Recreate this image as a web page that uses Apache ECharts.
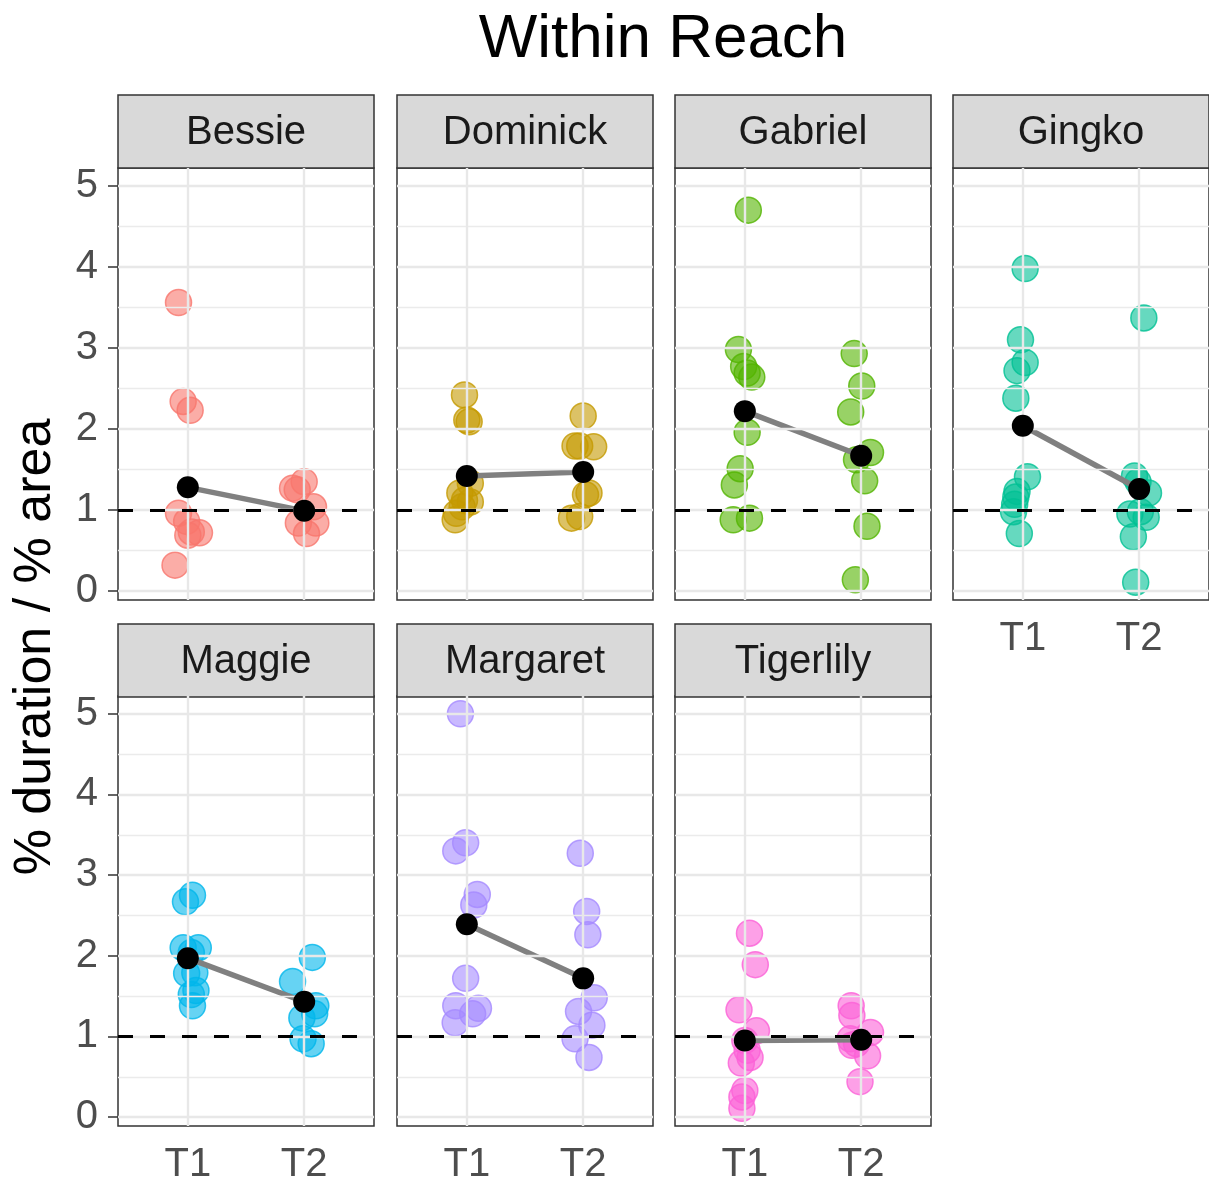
<!DOCTYPE html>
<html>
<head>
<meta charset="utf-8">
<script src="https://cdn.jsdelivr.net/npm/echarts@6/dist/echarts.min.js"></script>
<style>
  html, body { margin: 0; padding: 0; background: #ffffff; }
  #chart { width: 1209px; height: 1185px; }
</style>
</head>
<body>
<div id="chart"></div>
<script>
// ---------------- DATA ----------------
const chartTitle = 'Within Reach';
const yAxisTitle = '% duration / % area';
const animals = ['Bessie', 'Dominick', 'Gabriel', 'Gingko', 'Maggie', 'Margaret', 'Tigerlily'];
const timeLabels = ['T1', 'T2'];
const yTicks = [0, 1, 2, 3, 4, 5];
const yMinorTicks = [0.5, 1.5, 2.5, 3.5, 4.5];
const referenceLevel = 1;
const colors = ['#F8766D', '#C49A00', '#53B400', '#00C094', '#00B6EB', '#A58AFF', '#FB61D7'];

// observed values per animal and time point, with horizontal jitter offsets
const bessieT1 = [3.56, 2.34, 2.23, 0.96, 0.86, 0.73, 0.72, 0.69, 0.32];
const bessieT1Jitter = [-0.08, -0.04, 0.02, -0.08, -0.01, 0.03, 0.10, 0.00, -0.11];
const bessieT2 = [1.35, 1.27, 1.25, 1.04, 0.84, 0.84, 0.71];
const bessieT2Jitter = [0.00, -0.10, -0.06, 0.08, 0.10, -0.05, 0.02];

const dominickT1 = [2.42, 2.11, 2.09, 1.33, 1.21, 1.12, 1.10, 1.04, 0.96, 0.88];
const dominickT1Jitter = [-0.02, 0.00, 0.02, 0.03, -0.06, -0.02, 0.03, -0.04, -0.09, -0.10];
const dominickT2 = [2.16, 1.79, 1.79, 1.78, 1.21, 1.19, 0.92, 0.90];
const dominickT2Jitter = [0.00, -0.07, -0.03, 0.09, 0.05, 0.02, -0.03, -0.10];

const gabrielT1 = [4.70, 2.98, 2.77, 2.69, 2.64, 1.96, 1.51, 1.31, 0.88, 0.90];
const gabrielT1Jitter = [0.03, -0.055, -0.01, 0.02, 0.06, 0.02, -0.04, -0.09, -0.10, 0.04];
const gabrielT2 = [2.93, 2.53, 2.21, 1.71, 1.62, 1.36, 0.80, 0.14];
const gabrielT2Jitter = [-0.06, 0.005, -0.09, 0.08, -0.04, 0.03, 0.05, -0.05];

const gingkoT1 = [3.98, 3.10, 2.82, 2.72, 2.38, 1.41, 1.23, 1.16, 1.07, 0.98, 0.71];
const gingkoT1Jitter = [0.02, -0.02, 0.02, -0.05, -0.06, 0.04, -0.05, -0.06, -0.07, -0.08, -0.03];
const gingkoT2 = [3.37, 1.42, 1.35, 1.21, 0.98, 0.95, 0.91, 0.67, 0.11];
const gingkoT2Jitter = [0.04, -0.04, -0.01, 0.08, 0.01, -0.08, 0.06, -0.05, -0.03];

const maggieT1 = [2.75, 2.67, 2.10, 2.10, 2.04, 1.79, 1.78, 1.57, 1.52, 1.38];
const maggieT1Jitter = [0.04, -0.02, -0.04, 0.09, 0.03, 0.06, -0.01, 0.07, 0.03, 0.04];
const maggieT2 = [1.98, 1.68, 1.38, 1.28, 1.23, 0.97, 0.91];
const maggieT2Jitter = [0.07, -0.10, 0.10, 0.09, -0.02, -0.01, 0.06];

const margaretT1 = [5.00, 3.40, 3.30, 2.76, 2.63, 1.72, 1.38, 1.35, 1.28, 1.17];
const margaretT1Jitter = [-0.055, -0.01, -0.095, 0.09, 0.06, -0.01, -0.095, 0.10, 0.05, -0.10];
const margaretT2 = [3.27, 2.55, 2.26, 1.48, 1.31, 1.14, 0.97, 0.74];
const margaretT2Jitter = [-0.025, 0.03, 0.04, 0.095, -0.04, 0.075, -0.07, 0.05];

const tigerlilyT1 = [2.28, 1.89, 1.33, 1.07, 0.95, 0.83, 0.74, 0.67, 0.33, 0.25, 0.11];
const tigerlilyT1Jitter = [0.04, 0.09, -0.05, 0.10, 0.00, 0.02, 0.045, -0.03, 0.00, -0.025, -0.025];
const tigerlilyT2 = [1.38, 1.26, 1.05, 0.97, 0.91, 0.89, 0.76, 0.44];
const tigerlilyT2Jitter = [-0.086, -0.08, 0.08, -0.095, -0.04, -0.08, 0.055, -0.01];

// group means (T1, T2) per animal
const meansT1 = [1.28, 1.42, 2.22, 2.04, 1.97, 2.39, 0.95];
const meansT2 = [0.99, 1.47, 1.67, 1.26, 1.43, 1.72, 0.96];

// ---------------- BUILD ----------------
const valuesT1 = [bessieT1, dominickT1, gabrielT1, gingkoT1, maggieT1, margaretT1, tigerlilyT1];
const jitterT1 = [bessieT1Jitter, dominickT1Jitter, gabrielT1Jitter, gingkoT1Jitter, maggieT1Jitter, margaretT1Jitter, tigerlilyT1Jitter];
const valuesT2 = [bessieT2, dominickT2, gabrielT2, gingkoT2, maggieT2, margaretT2, tigerlilyT2];
const jitterT2 = [bessieT2Jitter, dominickT2Jitter, gabrielT2Jitter, gingkoT2Jitter, maggieT2Jitter, margaretT2Jitter, tigerlilyT2Jitter];

const FONT = '"Liberation Sans", Arial, Helvetica, sans-serif';
const colLeft = [118, 397, 675, 953];
const panelW = 256;
const stripTop = [95, 624];
const stripH = 73;
const plotTop = [168, 696];
const plotH = 432;

function rgba(hex, a) {
  const r = parseInt(hex.slice(1, 3), 16), g = parseInt(hex.slice(3, 5), 16), b = parseInt(hex.slice(5, 7), 16);
  return 'rgba(' + r + ',' + g + ',' + b + ',' + a + ')';
}

const grids = [], xAxes = [], yAxes = [], series = [], graphics = [];

animals.forEach(function (name, i) {
  const row = i < 4 ? 0 : 1;
  const col = i % 4;
  const showX = (row === 1) || (col === 3);
  const showY = col === 0;
  grids.push({
    left: colLeft[col], top: plotTop[row], width: panelW, height: plotH,
    show: true, borderColor: '#333333', borderWidth: 1.5, backgroundColor: '#ffffff'
  });
  xAxes.push({
    type: 'value', gridIndex: i, min: 0.4, max: 2.6,
    axisLine: { show: false },
    splitLine: { show: false },
    axisTick: { show: showX, customValues: [1, 2], length: 9, lineStyle: { color: '#333333', width: 1.5 } },
    axisLabel: {
      show: showX, customValues: [1, 2], margin: 19,
      formatter: function (v) { return timeLabels[Math.round(v) - 1]; },
      fontSize: 40, color: '#4D4D4D', fontFamily: FONT
    }
  });
  yAxes.push({
    type: 'value', gridIndex: i, min: -0.11, max: 5.22,
    axisLine: { show: false },
    splitLine: { show: false },
    axisTick: { show: showY, customValues: yTicks, length: 10, lineStyle: { color: '#333333', width: 1.5 } },
    axisLabel: {
      show: showY, customValues: yTicks, margin: 20,
      fontSize: 40, color: '#4D4D4D', fontFamily: FONT
    }
  });

  // grid lines
  const gridData = [];
  yMinorTicks.forEach(function (v) { gridData.push({ yAxis: v, lineStyle: { color: '#EBEBEB', width: 1.4, type: 'solid' } }); });
  yTicks.forEach(function (v) { gridData.push({ yAxis: v, lineStyle: { color: '#E8E8E8', width: 2.4, type: 'solid' } }); });
  [1, 2].forEach(function (v) { gridData.push({ xAxis: v, lineStyle: { color: '#E8E8E8', width: 2.4, type: 'solid' } }); });
  series.push({
    type: 'scatter', xAxisIndex: i, yAxisIndex: i, data: [], z: 1, silent: true,
    markLine: { silent: true, symbol: ['none', 'none'], animation: false, label: { show: false }, data: gridData }
  });
  // dashed reference line
  series.push({
    type: 'scatter', xAxisIndex: i, yAxisIndex: i, data: [], z: 2, silent: true,
    markLine: {
      silent: true, symbol: ['none', 'none'], animation: false, label: { show: false },
      lineStyle: { color: '#000000', width: 3, type: [15, 17] },
      data: [{ yAxis: referenceLevel }]
    }
  });
  // observations
  const pts = [];
  valuesT1[i].forEach(function (v, k) { pts.push([1 + jitterT1[i][k], v]); });
  valuesT2[i].forEach(function (v, k) { pts.push([2 + jitterT2[i][k], v]); });
  series.push({
    type: 'scatter', xAxisIndex: i, yAxisIndex: i, data: pts, z: 3,
    symbol: 'circle', symbolSize: 26,
    itemStyle: { color: rgba(colors[i], 0.6), borderColor: rgba(colors[i], 0.8), borderWidth: 1.5, opacity: 1 }
  });
  // mean line
  series.push({
    type: 'line', xAxisIndex: i, yAxisIndex: i, z: 4,
    data: [[1, meansT1[i]], [2, meansT2[i]]],
    symbol: 'none', lineStyle: { color: '#808080', width: 5.5 }
  });
  // mean points
  series.push({
    type: 'scatter', xAxisIndex: i, yAxisIndex: i, z: 5,
    data: [[1, meansT1[i]], [2, meansT2[i]]],
    symbol: 'circle', symbolSize: 22, itemStyle: { color: '#000000', opacity: 1 }
  });

  // strip
  graphics.push({
    type: 'rect', silent: true,
    shape: { x: colLeft[col], y: stripTop[row], width: panelW, height: stripH },
    style: { fill: '#D9D9D9', stroke: '#333333', lineWidth: 1.5 }
  });
  graphics.push({
    type: 'text', silent: true,
    x: colLeft[col] + panelW / 2, y: stripTop[row] + stripH / 2 + 1,
    style: { text: name, fontSize: 40, fontFamily: FONT, fill: '#1A1A1A', align: 'center', verticalAlign: 'middle' }
  });
});

graphics.push({
  type: 'text', silent: true, x: 663, y: 40,
  style: { text: chartTitle, fontSize: 62, fontFamily: FONT, fill: '#000000', align: 'center', verticalAlign: 'middle' }
});
graphics.push({
  type: 'text', silent: true, x: 36, y: 647, rotation: Math.PI / 2,
  style: { text: yAxisTitle, fontSize: 52, fontFamily: FONT, fill: '#000000', align: 'center', verticalAlign: 'middle' }
});

const chart = echarts.init(document.getElementById('chart'), null, { renderer: 'canvas' });
chart.setOption({
  animation: false,
  backgroundColor: '#ffffff',
  grid: grids,
  xAxis: xAxes,
  yAxis: yAxes,
  series: series,
  graphic: graphics
});
</script>
</body>
</html>
